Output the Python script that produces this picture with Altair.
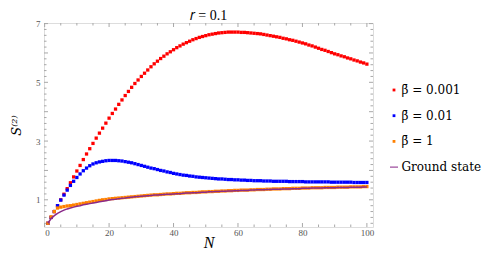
import altair as alt
import pandas as pd

N = list(range(1, 101))

red = [0.20, 0.40, 0.60, 0.80, 1.00, 1.19, 1.38, 1.58, 1.78, 1.98,
       2.17, 2.37, 2.56, 2.74, 2.92, 3.10, 3.27, 3.44, 3.61, 3.78,
       3.94, 4.09, 4.25, 4.40, 4.55, 4.69, 4.83, 4.96, 5.08, 5.20,
       5.31, 5.42, 5.53, 5.63, 5.72, 5.81, 5.89, 5.97, 6.04, 6.11,
       6.18, 6.24, 6.30, 6.35, 6.40, 6.45, 6.49, 6.53, 6.56, 6.59,
       6.62, 6.64, 6.66, 6.68, 6.69, 6.70, 6.71, 6.71, 6.71, 6.71,
       6.70, 6.70, 6.69, 6.68, 6.67, 6.66, 6.65, 6.63, 6.61, 6.59,
       6.57, 6.55, 6.53, 6.50, 6.48, 6.45, 6.43, 6.40, 6.37, 6.34,
       6.31, 6.27, 6.24, 6.20, 6.16, 6.12, 6.09, 6.05, 6.01, 5.97,
       5.94, 5.90, 5.87, 5.83, 5.80, 5.76, 5.73, 5.69, 5.66, 5.62]

blue = [0.20, 0.40, 0.60, 0.80, 0.99, 1.16, 1.33, 1.49, 1.63, 1.76,
        1.88, 1.99, 2.08, 2.16, 2.22, 2.26, 2.29, 2.31, 2.33, 2.34,
        2.34, 2.34, 2.33, 2.32, 2.30, 2.28, 2.26, 2.23, 2.20, 2.17,
        2.14, 2.11, 2.08, 2.06, 2.03, 2.00, 1.98, 1.95, 1.93, 1.90,
        1.88, 1.86, 1.84, 1.83, 1.81, 1.80, 1.78, 1.77, 1.76, 1.75,
        1.74, 1.73, 1.72, 1.71, 1.71, 1.70, 1.69, 1.69, 1.68, 1.68,
        1.67, 1.67, 1.66, 1.66, 1.65, 1.65, 1.65, 1.64, 1.64, 1.64,
        1.63, 1.63, 1.63, 1.63, 1.63, 1.62, 1.62, 1.62, 1.62, 1.62,
        1.61, 1.61, 1.61, 1.61, 1.61, 1.61, 1.61, 1.61, 1.60, 1.60,
        1.60, 1.60, 1.60, 1.60, 1.60, 1.59, 1.59, 1.59, 1.59, 1.59]

orange = [0.20, 0.42, 0.60, 0.72, 0.75, 0.77, 0.79, 0.80, 0.82, 0.84,
          0.86, 0.88, 0.90, 0.92, 0.94, 0.96, 0.98, 1.00, 1.01, 1.03,
          1.04, 1.05, 1.06, 1.07, 1.08, 1.09, 1.10, 1.11, 1.12, 1.13,
          1.14, 1.15, 1.16, 1.17, 1.17, 1.18, 1.19, 1.20, 1.20, 1.21,
          1.22, 1.22, 1.23, 1.24, 1.24, 1.25, 1.25, 1.26, 1.27, 1.27,
          1.28, 1.28, 1.29, 1.29, 1.30, 1.30, 1.31, 1.31, 1.32, 1.32,
          1.33, 1.33, 1.33, 1.34, 1.34, 1.35, 1.35, 1.35, 1.36, 1.36,
          1.37, 1.37, 1.37, 1.38, 1.38, 1.38, 1.39, 1.39, 1.39, 1.40,
          1.40, 1.40, 1.41, 1.41, 1.41, 1.41, 1.42, 1.42, 1.42, 1.42,
          1.43, 1.43, 1.43, 1.43, 1.44, 1.44, 1.44, 1.44, 1.45, 1.45]

ground = [0.20, 0.36, 0.46, 0.54, 0.60, 0.65, 0.69, 0.72, 0.75, 0.78,
          0.80, 0.83, 0.85, 0.87, 0.89, 0.91, 0.93, 0.95, 0.97, 0.99,
          1.01, 1.02, 1.04, 1.05, 1.06, 1.08, 1.09, 1.10, 1.11, 1.12,
          1.13, 1.14, 1.15, 1.16, 1.16, 1.17, 1.18, 1.19, 1.19, 1.20,
          1.21, 1.21, 1.22, 1.23, 1.23, 1.24, 1.24, 1.25, 1.26, 1.26,
          1.27, 1.27, 1.28, 1.28, 1.29, 1.29, 1.30, 1.30, 1.31, 1.31,
          1.32, 1.32, 1.32, 1.33, 1.33, 1.34, 1.34, 1.34, 1.35, 1.35,
          1.36, 1.36, 1.36, 1.37, 1.37, 1.37, 1.38, 1.38, 1.38, 1.39,
          1.39, 1.39, 1.40, 1.40, 1.40, 1.40, 1.41, 1.41, 1.41, 1.41,
          1.42, 1.42, 1.42, 1.42, 1.43, 1.43, 1.43, 1.43, 1.44, 1.44]

series_names = ["\u03b2\u0304 = 0.001", "\u03b2\u0304 = 0.01", "\u03b2\u0304 = 1", "Ground state"]
series_colors = ["#ff0000", "#0000ff", "#ff8000", "#8a2a8a"]

x_major = [0, 20, 40, 60, 80, 100]
x_minor = [5, 10, 15, 25, 30, 35, 45, 50, 55, 65, 70, 75, 85, 90, 95]
y_major = [1, 2, 3, 4, 5, 6, 7]
y_minor = [round(0.2 * i, 1) for i in range(1, 35) if i % 5 != 0]

W, H = 329, 204
xs = alt.Scale(domain=[-0.2, 101.9], nice=False, zero=False)
ys = alt.Scale(domain=[0.074, 7.02], nice=False, zero=False)

SQ = "M-0.35,-0.35H0.35V0.35H-0.35Z"
LN = "M-1,-0.13H1V0.13H-1Z"
shapes = [SQ, SQ, SQ, LN]

pts = pd.concat([
    pd.DataFrame({"N": N, "S": red, "series": series_names[0]}),
    pd.DataFrame({"N": N, "S": blue, "series": series_names[1]}),
    pd.DataFrame({"N": N, "S": orange, "series": series_names[2]}),
], ignore_index=True)
pts["order"] = pts["series"].map({s: i for i, s in enumerate(series_names)})

gs = pd.DataFrame({"N": N, "S": ground})

leg = alt.Legend(title=None, orient="none", legendX=344, legendY=61,
                 symbolSize=64, symbolStrokeWidth=0, padding=0,
                 labelFont="DejaVu Serif", labelFontSize=12, labelColor="black",
                 rowPadding=13.7, labelOffset=1.5, labelLimit=200)

axis_x = alt.Axis(values=x_major, title="N", titleFont="Liberation Serif", titleFontStyle="italic",
                  titleFontSize=16, titleFontWeight="normal", titleColor="black",
                  titleY=20.5, titleBaseline="alphabetic",
                  labelFont="Liberation Serif", labelFontSize=9, labelColor="#555555",
                  labelPadding=1, ticks=False, domain=False, grid=False, format="d")
axis_y = alt.Axis(values=y_major, title="S\u207d\u00b2\u207e", titleFont="DejaVu Serif",
                  titleFontStyle="italic", titleFontSize=13, titleFontWeight="normal", titleColor="black",
                  titleX=-28, titleY=102, titleBaseline="middle", titleAngle=-90,
                  labelFont="Liberation Serif", labelFontSize=9, labelColor="#555555",
                  labelPadding=4, ticks=False, domain=False, grid=False, format="d")

points = alt.Chart(pts).mark_point(filled=True, size=88, opacity=1).encode(
    x=alt.X("N:Q", scale=xs, axis=axis_x),
    y=alt.Y("S:Q", scale=ys, axis=axis_y),
    color=alt.Color("series:N", scale=alt.Scale(domain=series_names, range=series_colors), legend=leg),
    shape=alt.Shape("series:N", scale=alt.Scale(domain=series_names, range=shapes), legend=leg),
    order=alt.Order("order:Q"),
)

line = alt.Chart(gs).mark_line(strokeWidth=1.5, color=series_colors[3]).encode(
    x=alt.X("N:Q", scale=xs),
    y=alt.Y("S:Q", scale=ys),
)

TICK = "#a8a8a8"

def xticks(vals, length):
    d = pd.DataFrame({"v": vals})
    bot = alt.Chart(d).mark_rule(color=TICK, strokeWidth=1).encode(
        x=alt.X("v:Q", scale=xs), y=alt.value(H), y2=alt.value(H - length))
    top = alt.Chart(d).mark_rule(color=TICK, strokeWidth=1).encode(
        x=alt.X("v:Q", scale=xs), y=alt.value(0), y2=alt.value(length))
    return [bot, top]

def yticks(vals, length):
    d = pd.DataFrame({"v": vals})
    lft = alt.Chart(d).mark_rule(color=TICK, strokeWidth=1).encode(
        y=alt.Y("v:Q", scale=ys), x=alt.value(0), x2=alt.value(length))
    rgt = alt.Chart(d).mark_rule(color=TICK, strokeWidth=1).encode(
        y=alt.Y("v:Q", scale=ys), x=alt.value(W), x2=alt.value(W - length))
    return [lft, rgt]

layers = xticks(x_major, 4) + xticks(x_minor, 2.5) + yticks(y_major, 4) + yticks(y_minor, 2.5) + [points, line]

chart = alt.layer(*layers).properties(
    width=W, height=H,
    title=alt.TitleParams("\U0001d45f = 0.1", font="Liberation Serif", fontSize=14, fontWeight="normal",
                          anchor="middle", offset=-3, color="black"),
    autosize=alt.AutoSizeParams(type="none"),
    padding={"left": 36, "top": 15, "right": 110, "bottom": 25},
).configure_view(stroke="#b4b4b4", strokeWidth=1).configure(background="white")

chart.save("out.html", embed_options={"renderer": "svg", "actions": False})
